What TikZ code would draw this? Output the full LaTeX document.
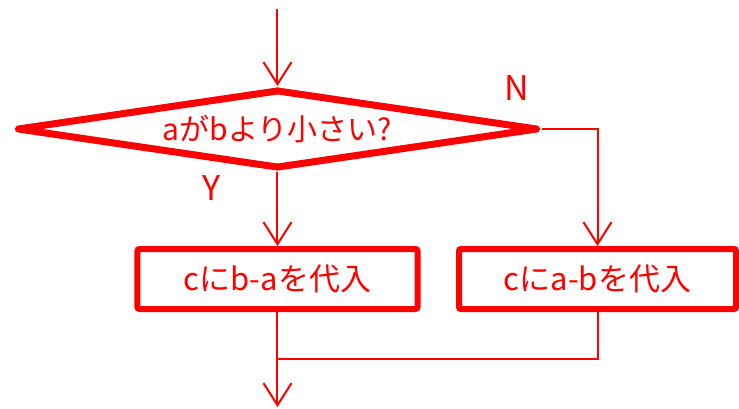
\documentclass[tikz,border=0pt]{standalone}
\usepackage{fontspec}
\newfontfamily\jpfont{Noto Sans CJK JP}
\usetikzlibrary{shapes.geometric, arrows.meta, positioning}
\tikzstyle{flow} = [red, line width=2pt]
\tikzstyle{arrow} = [flow, -{Straight Barb[length=22pt, width=28pt]}]
\tikzstyle{decision} = [diamond, draw=red, line width=7pt, line join=round, aspect=6.5, inner sep=0pt, minimum width=521pt, minimum height=79pt, text=red, font=\jpfont\fontsize{30}{30}\selectfont]
\tikzstyle{process} = [rectangle, rounded corners=2pt, draw=red, line width=6pt, minimum width=280pt, minimum height=60pt, text=red, font=\jpfont\fontsize{31}{31}\selectfont]
\tikzstyle{branch} = [text=red, font=\jpfont\fontsize{34}{34}\selectfont]

\begin{document}
\begin{tikzpicture}[node distance=150pt]
                \useasboundingbox (-277.5pt,-279pt) rectangle (461.5pt,129pt);
                \node (test) [decision] {aがbより小さい?};
                \node (ltask) [process, below of=test] {cにb-aを代入};
                \node (rtask) [process, right of=ltask, xshift=170pt, minimum width=277pt] {cにa-bを代入};
                \node (nlabel) [branch, right of=test, xshift=89.5pt, yshift=41pt] {N};
                \node (ylabel) [branch, left of=test, xshift=84.5pt, yshift=-59pt] {Y};
                \coordinate (start) at ([yshift=120pt]test.center);
                \coordinate (join) at ([yshift=-80pt]ltask.center);
                \coordinate (stop) at ([yshift=-128pt]ltask.center);

                \draw [arrow] (start) -- (test);
                \draw [arrow] (test) -- (ltask);
                \draw [arrow] (test.east) -| (rtask);
                \draw [flow] (rtask) |- (join);
                \draw [arrow] (ltask) -- (stop);
                \end{tikzpicture}
\end{document}
